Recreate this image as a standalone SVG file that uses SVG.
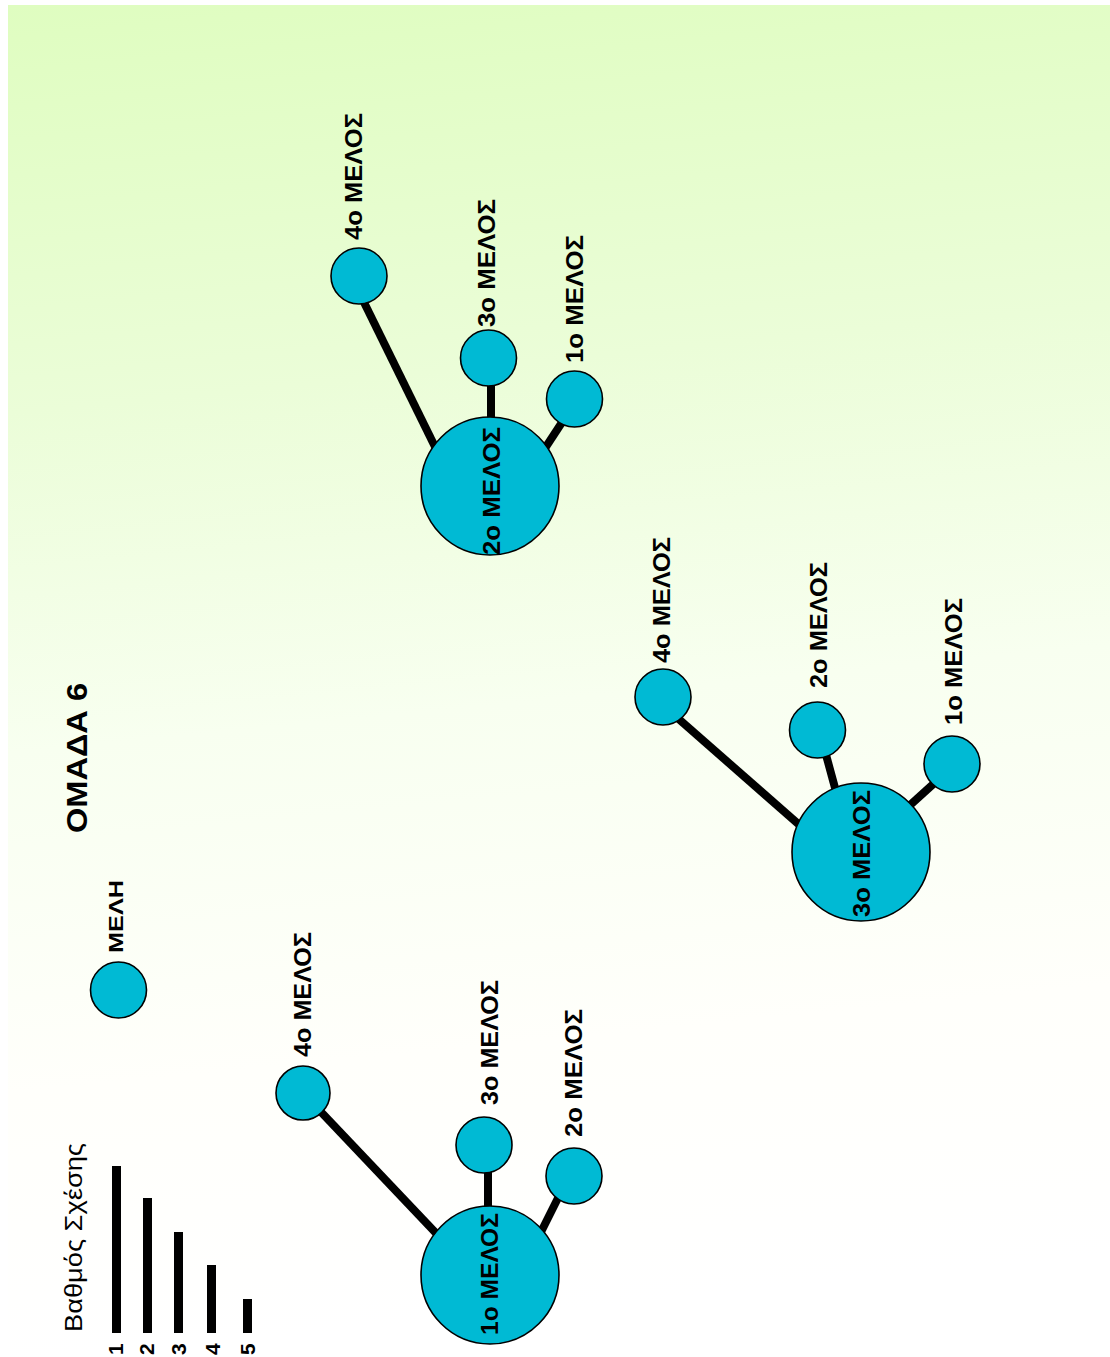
<svg xmlns="http://www.w3.org/2000/svg" width="1110" height="1357" viewBox="0 0 1110 1357">
<defs>
<linearGradient id="bg" x1="0" y1="0" x2="0.08" y2="1">
<stop offset="0" stop-color="#dffdc0"/>
<stop offset="0.3" stop-color="#ebfdd8"/>
<stop offset="0.55" stop-color="#f8fff0"/>
<stop offset="0.8" stop-color="#fffffb"/>
<stop offset="1" stop-color="#ffffff"/>
</linearGradient>
<style>
.node{fill:#00bad4;stroke:#000;stroke-width:1.6}
.edge{stroke:#000;stroke-width:8;stroke-linecap:butt;fill:none}
.lbl{font-family:"Liberation Sans",Arial,sans-serif;font-weight:bold;font-size:23px;fill:#000}
.title{font-family:"Liberation Sans",Arial,sans-serif;font-weight:bold;font-size:30px;fill:#000}
.leg{font-family:"Liberation Sans",Arial,sans-serif;font-size:24px;fill:#000}
.num{font-family:"Liberation Sans",Arial,sans-serif;font-weight:bold;font-size:21px;fill:#000}
.bar{fill:#000}
</style>
</defs>
<rect x="0" y="0" width="1110" height="1357" fill="#ffffff"/>
<rect x="8" y="5" width="1102" height="1352" fill="url(#bg)"/>

<g id="connectors">
<line class="edge" x1="303" y1="1093" x2="470" y2="1269"/>
<line class="edge" x1="488" y1="1145" x2="488" y2="1250"/>
<line class="edge" x1="569" y1="1176" x2="533" y2="1248"/>
<line class="edge" x1="354" y1="282" x2="442" y2="461"/>
<line class="edge" x1="491" y1="358" x2="491" y2="460"/>
<line class="edge" x1="576" y1="401" x2="536" y2="462"/>
<line class="edge" x1="665" y1="707" x2="812" y2="836"/>
<line class="edge" x1="822" y1="740" x2="841" y2="810"/>
<line class="edge" x1="951" y1="768" x2="898" y2="816"/>
</g>

<g id="legend">
<text class="title" transform="translate(87,833) rotate(-90)" textLength="150" lengthAdjust="spacingAndGlyphs">ΟΜΑΔΑ 6</text>
<circle class="node" cx="118.5" cy="990" r="28"/>
<text class="lbl" transform="translate(123,953) rotate(-90)" style="font-size:21px" textLength="73" lengthAdjust="spacingAndGlyphs">ΜΕΛΗ</text>
<text class="leg" transform="translate(82,1332) rotate(-90)" textLength="189" lengthAdjust="spacingAndGlyphs">Βαθμός Σχέσης</text>
<rect class="bar" x="112" y="1166" width="9" height="167"/>
<rect class="bar" x="143" y="1198" width="9" height="135"/>
<rect class="bar" x="174" y="1232" width="9" height="101"/>
<rect class="bar" x="207" y="1265" width="9" height="68"/>
<rect class="bar" x="243" y="1299" width="9" height="34"/>
<text class="num" transform="translate(123,1355) rotate(-90)">1</text>
<text class="num" transform="translate(154,1355) rotate(-90)">2</text>
<text class="num" transform="translate(186,1355) rotate(-90)">3</text>
<text class="num" transform="translate(220,1355) rotate(-90)">4</text>
<text class="num" transform="translate(255,1355) rotate(-90)">5</text>
</g>

<g id="g1-center"><circle class="node" cx="490" cy="1275" r="69"/><text class="lbl" transform="translate(498,1335) rotate(-90)" textLength="122" lengthAdjust="spacingAndGlyphs">1ο ΜΕΛΟΣ</text></g>
<g id="g1-m4"><circle class="node" cx="303" cy="1093" r="27"/><text class="lbl" transform="translate(311,1057) rotate(-90)" textLength="125" lengthAdjust="spacingAndGlyphs">4ο ΜΕΛΟΣ</text></g>
<g id="g1-m3"><circle class="node" cx="484" cy="1145" r="28"/><text class="lbl" transform="translate(498,1105) rotate(-90)" textLength="125" lengthAdjust="spacingAndGlyphs">3ο ΜΕΛΟΣ</text></g>
<g id="g1-m2"><circle class="node" cx="574" cy="1176" r="28"/><text class="lbl" transform="translate(582,1137) rotate(-90)" textLength="128" lengthAdjust="spacingAndGlyphs">2ο ΜΕΛΟΣ</text></g>

<g id="g2-center"><circle class="node" cx="490" cy="486" r="69"/><text class="lbl" transform="translate(500,555) rotate(-90)" textLength="128" lengthAdjust="spacingAndGlyphs">2ο ΜΕΛΟΣ</text></g>
<g id="g2-m4"><circle class="node" cx="359" cy="276" r="28"/><text class="lbl" transform="translate(362,240) rotate(-90)" textLength="127" lengthAdjust="spacingAndGlyphs">4ο ΜΕΛΟΣ</text></g>
<g id="g2-m3"><circle class="node" cx="488.5" cy="358" r="28"/><text class="lbl" transform="translate(495,327) rotate(-90)" textLength="128" lengthAdjust="spacingAndGlyphs">3ο ΜΕΛΟΣ</text></g>
<g id="g2-m1"><circle class="node" cx="574.5" cy="399" r="28"/><text class="lbl" transform="translate(583,363) rotate(-90)" textLength="128" lengthAdjust="spacingAndGlyphs">1ο ΜΕΛΟΣ</text></g>

<g id="g3-center"><circle class="node" cx="861" cy="852" r="69"/><text class="lbl" transform="translate(870,917) rotate(-90)" textLength="127" lengthAdjust="spacingAndGlyphs">3ο ΜΕΛΟΣ</text></g>
<g id="g3-m4"><circle class="node" cx="663" cy="697" r="28"/><text class="lbl" transform="translate(670,663) rotate(-90)" textLength="126" lengthAdjust="spacingAndGlyphs">4ο ΜΕΛΟΣ</text></g>
<g id="g3-m2"><circle class="node" cx="817.5" cy="730" r="28"/><text class="lbl" transform="translate(827,688) rotate(-90)" textLength="126" lengthAdjust="spacingAndGlyphs">2ο ΜΕΛΟΣ</text></g>
<g id="g3-m1"><circle class="node" cx="952" cy="764" r="28"/><text class="lbl" transform="translate(962,725) rotate(-90)" textLength="127" lengthAdjust="spacingAndGlyphs">1ο ΜΕΛΟΣ</text></g>
</svg>
